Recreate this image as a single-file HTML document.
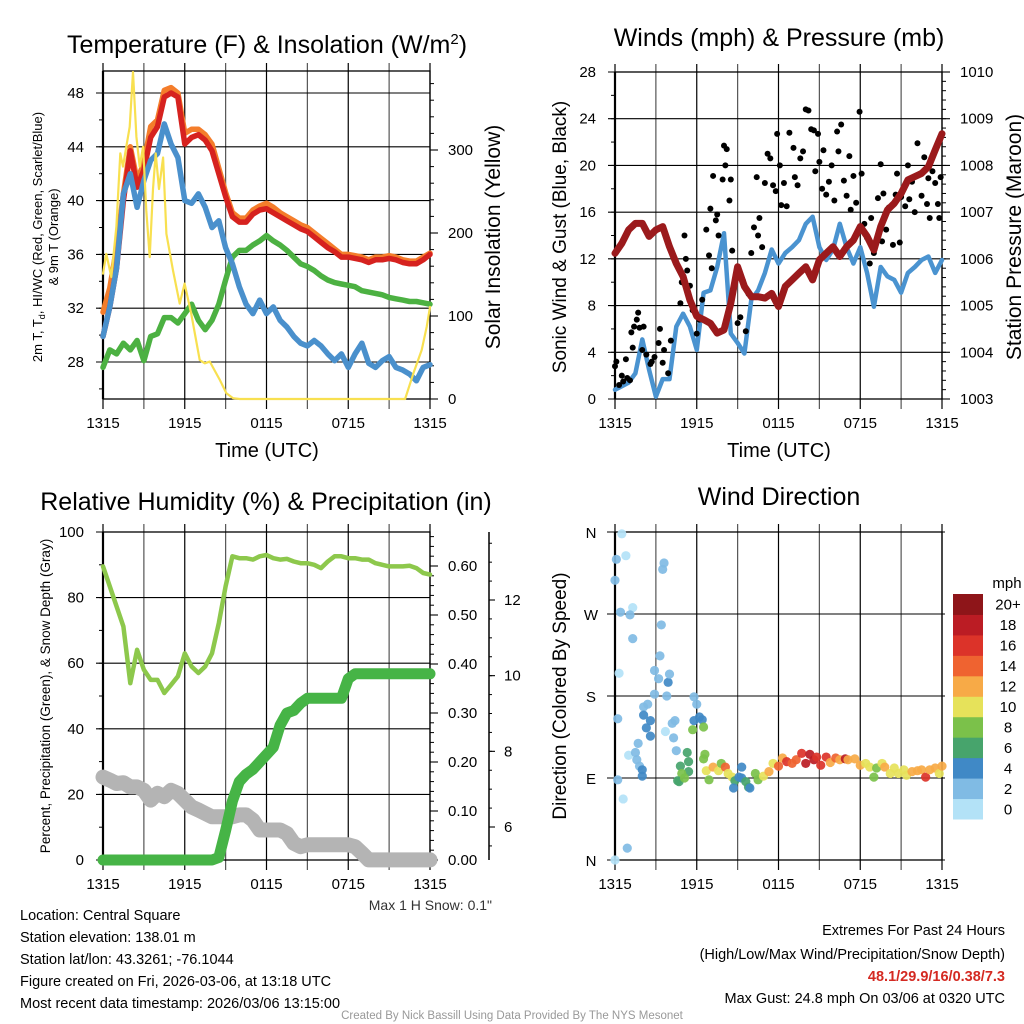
<!DOCTYPE html>
<html><head><meta charset="utf-8"><style>
html,body{margin:0;padding:0;background:#fff;}
svg{display:block;font-family:"Liberation Sans",sans-serif;}
</style></head><body>
<svg id="chart" width="1024" height="1024" viewBox="0 0 1024 1024" xmlns="http://www.w3.org/2000/svg">
<rect x="0" y="0" width="1024" height="1024" fill="#fff"/>
<text x="267" y="53" font-size="25" text-anchor="middle">Temperature (F) &amp; Insolation (W/m<tspan font-size="15" dy="-9">2</tspan><tspan dy="9">)</tspan></text>
<text x="779" y="46" font-size="25" text-anchor="middle">Winds (mph) &amp; Pressure (mb)</text>
<text x="266" y="510" font-size="25" text-anchor="middle">Relative Humidity (%) &amp; Precipitation (in)</text>
<text x="779" y="505" font-size="25" text-anchor="middle">Wind Direction</text>
<text font-size="13" text-anchor="middle" transform="translate(42,237) rotate(-90)">2m T, T<tspan font-size="9" dy="3">d</tspan><tspan dy="-3">, HI/WC (Red, Green, Scarlet/Blue)</tspan></text>
<text font-size="13" text-anchor="middle" transform="translate(58,237) rotate(-90)">&amp; 9m T (Orange)</text>
<text font-size="21" text-anchor="middle" transform="translate(500,237) rotate(-90)">Solar Insolation (Yellow)</text>
<text x="267" y="457" font-size="20" text-anchor="middle">Time (UTC)</text>
<text x="779" y="457" font-size="20" text-anchor="middle">Time (UTC)</text>
<text font-size="19" text-anchor="middle" transform="translate(566,237) rotate(-90)">Sonic Wind &amp; Gust (Blue, Black)</text>
<text font-size="21" text-anchor="middle" transform="translate(1021,237) rotate(-90)">Station Pressure (Maroon)</text>
<text font-size="13.5" text-anchor="middle" transform="translate(50,696) rotate(-90)">Percent, Precipitation (Green), &amp; Snow Depth (Gray)</text>
<text font-size="19" text-anchor="middle" transform="translate(566,696) rotate(-90)">Direction (Colored By Speed)</text>
<text x="492" y="910" font-size="14" fill="#333" text-anchor="end">Max 1 H Snow: 0.1"</text>
<g font-size="14.5">
<text x="20" y="920">Location: Central Square</text>
<text x="20" y="942">Station elevation: 138.01 m</text>
<text x="20" y="964">Station lat/lon: 43.3261; -76.1044</text>
<text x="20" y="986">Figure created on Fri, 2026-03-06, at 13:18 UTC</text>
<text x="20" y="1008">Most recent data timestamp: 2026/03/06 13:15:00</text>
</g>
<g font-size="14.5" text-anchor="end">
<text x="1005" y="935">Extremes For Past 24 Hours</text>
<text x="1005" y="959">(High/Low/Max Wind/Precipitation/Snow Depth)</text>
<text x="1005" y="981" fill="#d42a22" font-weight="bold">48.1/29.9/16/0.38/7.3</text>
<text x="1005" y="1003">Max Gust: 24.8 mph On 03/06 at 0320 UTC</text>
</g>
<text x="512" y="1019" font-size="11.5" fill="#999" text-anchor="middle">Created By Nick Bassill Using Data Provided By The NYS Mesonet</text>
<text x="1007" y="588" font-size="15" text-anchor="middle">mph</text>
</svg>
<script>
// ---------- DATA ----------
const timeTickLabels = ["1315","1915","0115","0715","1315"];
const timeTickHours = [0,6,12,18,24];
const halfHours = Array.from({length:49},(_,i)=>i*0.5);

const airTemp = [29.9,32.1,35,40,43.7,41,42.3,44.7,45.5,47.7,48,47.7,44.2,44.7,44.9,44.5,43.7,42,40.3,38.8,38.4,38.4,39,39.3,39.4,39.1,38.8,38.5,38.2,37.9,37.7,37.3,36.9,36.5,36.2,35.8,35.8,35.7,35.6,35.4,35.6,35.6,35.7,35.6,35.4,35.3,35.3,35.6,36];
const temp9m = [31.7,33.5,36.5,40.5,44,41.5,42.8,45.5,46,48.2,48.4,48,45,45.3,45.3,44.9,44.2,42.4,40.6,39.1,38.7,38.7,39.3,39.6,39.8,39.5,39.1,38.8,38.5,38.2,38,37.6,37.2,36.8,36.4,36,36,35.9,35.8,35.6,35.8,35.8,35.9,35.8,35.6,35.5,35.5,35.8,36.1];
const windChill = [29.9,32.1,35,40.5,42,39.5,41.5,43,43.5,45.7,44.2,43.2,40,39.8,40.5,39.5,38,38.5,36.5,35.3,33.6,32.3,31.6,32.6,31.6,32.1,31.1,30.6,29.9,29.4,29.2,29.6,29.2,28.6,28.1,28.6,27.6,28.6,29.4,27.9,27.6,28.1,28.4,27.6,27.4,27.1,26.6,27.6,27.8];
const dewPoint = [27.6,28.9,28.6,29.4,28.9,29.6,28.1,29.9,30.1,31.3,31.3,30.9,31.6,32.3,31.1,30.4,31.1,32.3,34.1,35.8,36.3,36.3,36.7,37,37.4,37,36.7,36.3,35.8,35.3,35.1,34.8,34.4,34.1,33.9,33.8,33.7,33.6,33.3,33.2,33.1,33,32.8,32.7,32.6,32.5,32.5,32.4,32.3];
const insolHours = [0,0.24,0.61,0.98,1.27,1.47,1.71,1.96,2.2,2.45,2.69,2.94,3.18,3.43,3.67,3.87,4.11,4.41,4.65,5.14,5.63,5.99,6.47,7.1,7.47,7.84,8.57,9.06,9.55,10.04,22.17,22.78,23.39,23.76,24];
const insolValues = [151,175,147,208,296,280,304,328,394,316,280,304,227,171,253,296,253,291,199,155,115,139,103,47,43,45,23,7,1,0,0,31,59,87,111];

const sonicWind = [0.8,1.1,1.4,2.2,5.1,2.5,0.2,1.7,1.7,6.2,7.3,6.2,4.2,9.1,9.3,11.3,14.2,5.6,4.8,3.9,8.5,9.3,10.8,12.8,11.6,12.5,13,13.6,15,15.6,13,11.9,12.8,15,13,11.6,13,10.8,7.9,11.3,10.5,10.2,9.1,10.8,11.3,11.9,12.2,10.8,11.9];
const pressure = [1006.12,1006.33,1006.62,1006.76,1006.76,1006.48,1006.62,1006.69,1006.26,1005.9,1005.62,1005.12,1004.77,1004.7,1004.62,1004.41,1004.48,1005.05,1005.83,1005.41,1005.19,1005.19,1005.16,1005.26,1004.98,1005.41,1005.55,1005.69,1005.83,1005.55,1005.98,1006.12,1006.26,1006.05,1006.26,1006.4,1006.69,1006.48,1006.19,1006.69,1007.05,1007.19,1007.4,1007.69,1007.76,1007.83,1007.97,1008.33,1008.68];
const gustHours = [0,0.1,0.3,0.5,0.6,0.8,0.9,1.1,1.2,1.3,1.4,1.6,1.7,1.8,2.0,2.1,2.3,2.6,2.7,2.9,3.2,3.3,3.5,3.6,3.9,4.1,4.8,4.9,5.1,5.2,5.3,5.5,5.7,6.0,6.2,6.4,6.7,6.9,7.0,7.1,7.2,7.4,7.5,7.6,7.9,8.0,8.1,8.2,8.4,8.5,8.6,8.9,9.0,9.2,9.4,9.6,9.8,10.0,10.2,10.4,10.5,10.6,10.8,11.0,11.2,11.4,11.6,11.8,11.9,12.1,12.2,12.4,12.6,12.8,13.1,13.2,13.4,13.6,13.8,14.0,14.2,14.4,14.6,14.7,14.9,15.0,15.2,15.3,15.5,15.7,15.9,16.1,16.3,16.4,16.6,16.8,17.0,17.2,17.3,17.5,17.7,17.95,18.1,18.3,18.5,18.7,18.8,19.0,19.3,19.5,19.6,19.7,19.9,20.1,20.4,20.6,20.7,20.9,21.0,21.3,21.5,21.6,21.8,22.0,22.2,22.4,22.5,22.7,22.9,23.0,23.1,23.3,23.5,23.7,23.8,23.9];
const gustValues = [2.8,3.2,1.2,2,1.5,3.4,1.8,1.6,5.7,4.4,6.2,6.8,7.4,6.1,4.2,6.2,3.8,3.0,3.2,3.6,4.8,6.0,3.1,4.2,2.2,5.0,8.2,10,14,12,11,9.7,7.6,5.6,6.8,8.5,14.5,12.3,16.3,11.2,19.1,15.3,15.8,14,18.8,21.7,20,21.4,17,18.8,12.7,10.6,6.5,7,10.1,5.8,9,12.5,14.7,19,14,15.5,13,18.5,21,20.6,18.3,17.8,22.7,20,16.6,18.5,16.5,22.8,21.5,19,18.3,20.6,21.2,24.8,24.7,23.1,23,19.5,22.7,20.3,18,21.3,17.5,18.6,20,17,22.9,21.2,23.5,18.7,17.4,20.8,16.2,19.1,16.8,24.6,19.3,15,13.8,11.6,15.5,12.5,17.2,20.1,13.5,17.6,14.5,16.4,13.2,17.5,19.3,13.4,17.3,16.5,20,17.1,18.6,16,21.9,19.3,17.4,20.7,16.7,18.9,15.5,19.5,18.5,16.7,15.5,19];

const relHumidity = [89.5,83.4,77.3,71.2,53.9,64.1,58,54.9,54.9,50.9,53.4,56,63,59,57,59,63,72.2,83.4,92.6,92,92,91.6,92.6,93,92,91.6,91.8,91,90.5,90.5,90,89,91,92.6,92.6,92,92,91.6,91.6,90.5,90,89.5,89.5,89.5,89.7,89,87.5,87];
const precipAccum = [0,0,0,0,0,0,0,0,0,0,0,0,0,0,0,0,0,0.005,0.06,0.12,0.16,0.175,0.185,0.2,0.215,0.23,0.275,0.3,0.305,0.32,0.33,0.33,0.33,0.33,0.33,0.33,0.37,0.38,0.38,0.38,0.38,0.38,0.38,0.38,0.38,0.38,0.38,0.38,0.38];
const snowDepth = [7.32,7.24,7.15,7.17,7.06,7.06,6.97,6.71,6.89,6.8,6.97,6.89,6.71,6.53,6.45,6.36,6.27,6.27,6.27,6.27,6.32,6.32,6.18,5.92,5.92,5.92,5.92,5.83,5.57,5.48,5.53,5.53,5.53,5.53,5.53,5.53,5.53,5.48,5.31,5.13,5.13,5.13,5.13,5.13,5.13,5.13,5.13,5.13,5.13];

const dirHours = [0.5,0.1,0.8,0,3.5,3.6,0.4,1.3,1.1,3.4,1.3,3.3,0.3,2.9,3.2,3.9,4,2.9,3.8,5.8,6,2.1,2.4,2.1,2.6,2.3,2.6,0.2,4.4,4.2,3.7,4.3,5.8,6.2,6.4,6.5,5.7,1.7,4.5,5.3,6.6,6.5,1,1.5,1.6,1.8,2,2,4.8,5.4,5.4,4.9,4.7,4.6,5.1,0.2,0.6,0.9,0,6.7,6.9,7.2,7.6,7.8,8.1,8.3,8.6,8.8,9.1,9.3,9.3,8.7,9.6,9.8,9.9,10.3,10.5,10.9,11.3,11.6,12,12.3,12.6,13,13.3,13.7,14,14.3,14.6,14.8,15.1,15.5,15.8,16.2,16.5,16.9,17.1,17.6,18,18.4,18.7,19,19.2,19.6,19.8,20.2,20.5,20.8,21.2,21.4,21.8,22.2,22.5,22.8,23.1,23.5,23.8,24];
const dirDegrees = [358,330,334,307,319,326,272,277,269,258,243,224,205,208,199,195,204,182,180,179,171,168,171,159,153,145,136,155,153,150,141,134,153,157,154,146,143,128,120,118,116,111,115,118,110,103,99,92,103,108,97,95,86,87,90,88,67,13,0,98,88,102,98,106,102,95,91,87,91,102,90,79,86,80,79,95,88,92,97,106,103,112,108,106,110,117,106,116,110,113,104,113,107,112,110,111,110,111,104,106,102,91,101,106,102,95,101,95,99,93,97,98,99,91,99,101,95,103];
const dirSpeeds = [0.5,2.5,0.5,1,2.5,1,1,0.5,1,1,1,2.5,0.5,1,2,3.5,2,1,2,2,2,1.5,1.5,3.5,4,3.5,3,1,1,1,0.5,1,4,3.5,4,7,7,2.5,2.5,6,8,8,0.5,2,1.5,2,4,4,6,6,6,7,5,6,8,1,0.5,2,0.5,10,8,12,10,7,14,10,10,5,4,4,4,4,5,6,4,8,8,10,12,10,14,12,15,14,14,16,17,17,18,16,16,16,12,14,12,18,12,12,12,10,10,8,8,10,12,10,10,10,10,10,12,12,12,16,12,12,10,12];
const speedBinColors = ["#b3e2f7","#80bbe4","#4089c6","#47a46c","#7bc14a","#e6e25a","#f7aa47","#ef6330","#dc3329","#bb1c24","#8e1519"];
const speedBinLabels = ["0","2","4","6","8","10","12","14","16","18","20+"];

const p1LeftTicks=[28,32,36,40,44,48], p1RightTicks=[0,100,200,300];
const p2LeftTicks=[0,4,8,12,16,20,24,28], p2RightTicks=[1003,1004,1005,1006,1007,1008,1009,1010];
const p3LeftTicks=[0,20,40,60,80,100], p3RightTicks=[0,0.1,0.2,0.3,0.4,0.5,0.6], p3SnowTicks=[6,8,10,12];
const dirTickValues=[0,90,180,270,360], dirTickLabels=["N","E","S","W","N"];

// ---------- DRAW ----------
const NS='http://www.w3.org/2000/svg';
const svg=document.getElementById('chart');
function mk(tag,attrs,parent){const e=document.createElementNS(NS,tag);for(const k in attrs)e.setAttribute(k,attrs[k]);(parent||svg).appendChild(e);return e;}
function lin(d0,d1,r0,r1){return v=>r0+(v-d0)*(r1-r0)/(d1-d0);}
function grp(name){const g=mk('g',{});return g;}

const P1={x0:103,x1:430,y0:71,y1:399}, P2={x0:615,x1:942,y0:72,y1:399}, P3={x0:103,x1:430,y0:532,y1:860}, P4={x0:615,x1:942,y0:532,y1:860};
[P1,P2,P3,P4].forEach(p=>{p.x=lin(0,24,p.x0,p.x1);});
const y1L=lin(28,48,362,93), y1R=lin(0,300,399,150);
const y2L=lin(0,28,399,72), y2R=lin(1003,1010,399,72);
const y3L=lin(0,100,860,532), y3R=lin(0,0.6,860,566), y3S=lin(6,12,827,600);
const y4=lin(0,360,860,532);

function frame(p,name,leftTicks,yL,leftFmt,minorStep,lo,hi,labelX,rightTicks,yR,rightFmt,rMinor,rlo,rhi){
  const g=grp(name);
  for(let h=0;h<=24;h+=3){const l=mk('line',{x1:p.x(h),x2:p.x(h),y1:p.y0-8,y2:p.y1+10,stroke:h%6===0?'#000':'#555','stroke-width':1.2},g);
    }
  timeTickHours.forEach((h,i)=>{const t=mk('text',{x:p.x(h),y:p.y1+29,'font-size':15,'text-anchor':'middle'},g);t.textContent=timeTickLabels[i];
    });
  for(let v=lo;v<=hi+1e-9;v+=minorStep){const yy=yL(v);if(yy<p.y0-0.5||yy>p.y1+0.5)continue;
    const l=mk('line',{x1:p.x0-4,x2:p.x0,y1:yy,y2:yy,stroke:'#000','stroke-width':1},g);}
  leftTicks.forEach(v=>{const yy=yL(v);const l=mk('line',{x1:p.x0-7,x2:p.x1,y1:yy,y2:yy,stroke:'#000','stroke-width':1.1},g);
    
    const t=mk('text',{x:labelX,y:yy+5,'font-size':15,'text-anchor':'end'},g);t.textContent=leftFmt(v);
    });
  if(rightTicks){
    for(let v=rlo;v<=rhi+1e-9;v+=rMinor){const yy=yR(v);if(yy<p.y0-0.5||yy>p.y1+0.5)continue;
      const l=mk('line',{x1:p.x1,x2:p.x1+4,y1:yy,y2:yy,stroke:'#000','stroke-width':1},g);}
    rightTicks.forEach(v=>{const yy=yR(v);const l=mk('line',{x1:p.x1,x2:p.x1+8,y1:yy,y2:yy,stroke:'#000','stroke-width':1.1},g);
      
      const t=mk('text',{x:p.x1+18,y:yy+5,'font-size':15},g);t.textContent=rightFmt(v);
      });
  }
  const r=mk('rect',{x:p.x0,y:p.y0,width:p.x1-p.x0,height:p.y1-p.y0,fill:'none',stroke:'#000','stroke-width':1.3},g);
  
  const lb=mk('line',{x1:p.x0,x2:p.x0,y1:p.y0,y2:p.y1,stroke:'#000','stroke-width':2.2},g);
  
}
function line(p,xs,ys,yf,color,w,name,g){
  const d=xs.map((h,i)=>(i?'L':'M')+p.x(h).toFixed(1)+','+yf(ys[i]).toFixed(1)).join('');
  const e=mk('path',{d:d,fill:'none',stroke:color,'stroke-width':w,'stroke-linejoin':'round','stroke-linecap':'round'},g);
  return e;
}

// Panel 1
frame(P1,'temperature-panel',p1LeftTicks,y1L,v=>v,2,26,50,84,p1RightTicks,y1R,v=>v,20,0,380);
const g1=grp('temperature-series');
line(P1,halfHours,temp9m,y1L,'#f47d2b',5.5,'temp-9m-line',g1);
line(P1,halfHours,airTemp,y1L,'#d6221f',5.5,'air-temp-line',g1);
line(P1,halfHours,dewPoint,y1L,'#4cb142',5.5,'dewpoint-line',g1);
line(P1,halfHours,windChill,y1L,'#4a90cc',5.5,'wind-chill-line',g1);
line(P1,insolHours,insolValues,y1R,'#f8e050',2.2,'insolation-line',g1);

// Panel 2
frame(P2,'wind-panel',p2LeftTicks,y2L,v=>v,2,0,28,596,p2RightTicks,y2R,v=>v,0.2,1003,1010);
const g2=grp('wind-series');
line(P2,halfHours,sonicWind,y2L,'#4a93d0',4.5,'sonic-wind-line',g2);
gustHours.forEach((h,i)=>{const c=mk('circle',{cx:P2.x(h),cy:y2L(gustValues[i]),r:3,fill:'#000'},g2);
  });
line(P2,halfHours,pressure,y2R,'#9b1a1c',7,'pressure-line',g2);

// Panel 3
frame(P3,'humidity-panel',p3LeftTicks,y3L,v=>v,10,0,100,84,p3RightTicks,y3R,v=>v.toFixed(2),0.02,0,0.66);
const g3=grp('humidity-series');
line(P3,halfHours,relHumidity,y3L,'#8dc84c',4.5,'relative-humidity-line',g3);
line(P3,halfHours,snowDepth,y3S,'#b4b4b4',15,'snow-depth-line',g3);
line(P3,halfHours,precipAccum,y3R,'#46b446',11,'precipitation-line',g3);
const gs=grp('snow-depth-axis');
const sa=mk('line',{x1:489,x2:489,y1:532,y2:860,stroke:'#000','stroke-width':1.5},gs);

for(let v=5.5;v<=13.6;v+=0.5){const yy=y3S(v);if(yy<532||yy>860)continue;
  const l=mk('line',{x1:489,x2:492,y1:yy,y2:yy,stroke:'#000','stroke-width':1},gs);}
p3SnowTicks.forEach(v=>{const yy=y3S(v);const l=mk('line',{x1:489,x2:495,y1:yy,y2:yy,stroke:'#000','stroke-width':1.1},gs);
  
  const t=mk('text',{x:504,y:yy+5,'font-size':15},gs);t.textContent=v;
  });

// Panel 4
frame(P4,'wind-direction-panel',[],y4,v=>v,90,0,360,596,null);
const g4=grp('wind-direction-axis');
dirTickValues.forEach((v,i)=>{const yy=y4(v);const l=mk('line',{x1:P4.x0-8,x2:P4.x1+3,y1:yy,y2:yy,stroke:'#000','stroke-width':1.1},g4);
  
  const t=mk('text',{x:591,y:yy+6,'font-size':15,'text-anchor':'middle'},g4);t.textContent=dirTickLabels[i];
  });
const g5=grp('wind-direction-points');
dirHours.forEach((h,i)=>{const b=Math.min(10,Math.round(dirSpeeds[i]/2));
  const c=mk('circle',{cx:P4.x(h),cy:y4(dirDegrees[i]),r:4.6,fill:speedBinColors[b],'fill-opacity':0.92},g5);
  });
const gc=grp('speed-colorbar');
const cbTop=594, cbH=(819-594)/11;
speedBinColors.forEach((col,i)=>{const yy=cbTop+(10-i)*cbH;
  const r=mk('rect',{x:953,y:yy,width:30,height:cbH+0.5,fill:col},gc);
  
  const t=mk('text',{x:1008,y:yy+cbH/2+5.5,'font-size':15,'text-anchor':'middle'},gc);t.textContent=speedBinLabels[i];
  });
</script>
</body></html>
